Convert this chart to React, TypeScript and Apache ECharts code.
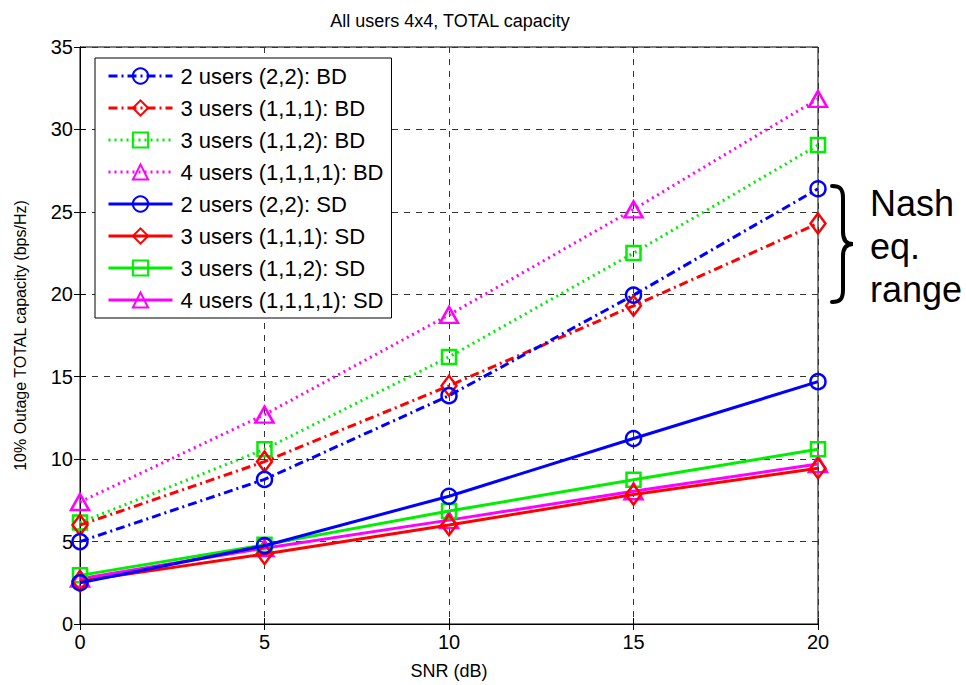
import React, { useEffect, useRef } from "react";
import * as echarts from "echarts";

const snr = [0, 5, 10, 15, 20];
const bd2 = [5.0, 8.77, 13.85, 19.95, 26.4];
const bd3a = [6.0, 9.85, 14.45, 19.3, 24.3];
const bd3b = [6.15, 10.6, 16.2, 22.5, 29.05];
const bd4 = [7.4, 12.7, 18.75, 25.15, 31.85];
const sd2 = [2.5, 4.75, 7.75, 11.25, 14.7];
const sd3a = [2.6, 4.25, 6.0, 7.85, 9.45];
const sd3b = [2.95, 4.8, 6.85, 8.75, 10.6];
const sd4 = [2.75, 4.6, 6.3, 8.05, 9.7];

const seriesNames = [
  "2 users (2,2): BD",
  "3 users (1,1,1): BD",
  "3 users (1,1,2): BD",
  "4 users (1,1,1,1): BD",
  "2 users (2,2): SD",
  "3 users (1,1,1): SD",
  "3 users (1,1,2): SD",
  "4 users (1,1,1,1): SD",
];
const seriesData = [bd2, bd3a, bd3b, bd4, sd2, sd3a, sd3b, sd4];
const colors = ["#0000ff", "#ff0000", "#00ee00", "#ff00ff", "#0000ff", "#ff0000", "#00ee00", "#ff00ff"];
const symbols = ["circle", "diamond", "rect", "triangle", "circle", "diamond", "rect", "triangle"];
const symbolSizes: any[] = [15, [15, 20], 14, [18, 16], 15, [15, 20], 14, [18, 16]];
const dashStyles: any[] = [[9, 4, 2, 4], [9, 4, 2, 4], [2, 4], [2, 4], "solid", "solid", "solid", "solid"];

const braceD = "M0 0 C8 0 11 3 11 12 L11 46 C11 54 14 58 21 58 C14 58 11 62 11 70 L11 104 C11 113 8 116 0 116";
echarts.graphic.registerShape("brace", echarts.graphic.extendPath(braceD, {}) as any);

export default function App() {
  const ref = useRef<HTMLDivElement>(null);
  useEffect(() => {
    const chart = echarts.init(ref.current!, null, { renderer: "svg" });
    const font = "Liberation Sans";
    const gridLine = { show: true, lineStyle: { color: "#333", type: [6, 6] as any, width: 1 } };
    chart.setOption({
      animation: false,
      textStyle: { fontFamily: font },
      title: {
        text: "All users 4x4, TOTAL capacity",
        left: 445,
        textAlign: "center",
        top: 7,
        textStyle: { fontFamily: font, fontSize: 18, fontWeight: "normal", color: "#000" },
      },
      legend: {
        orient: "vertical",
        left: 95,
        top: 58,
        itemWidth: 64,
        itemHeight: 19,
        itemGap: 10,
        padding: [7, 8, 7, 12],
        borderColor: "#000",
        borderWidth: 1,
        backgroundColor: "#fff",
        lineStyle: { width: 3 },
        textStyle: { fontFamily: font, fontSize: 22, color: "#000", padding: [0, 0, 0, 3] },
        data: seriesNames,
      },
      grid: { left: 80, right: 148, top: 47, bottom: 59, show: true, borderColor: "#000", borderWidth: 1, backgroundColor: "#fff" },
      xAxis: [
        {
          type: "value",
          min: 0,
          max: 20,
          interval: 5,
          name: "SNR (dB)",
          nameLocation: "middle",
          nameGap: 38,
          nameTextStyle: { fontFamily: font, fontSize: 18, color: "#000" },
          axisLine: { show: true, lineStyle: { color: "#000" } },
          axisTick: { inside: true, length: 6, lineStyle: { color: "#000" } },
          axisLabel: { fontFamily: font, fontSize: 20, color: "#000", margin: 8 },
          splitLine: gridLine,
        },
        {
          type: "value",
          position: "top",
          min: 0,
          max: 20,
          interval: 5,
          axisLine: { show: true, lineStyle: { color: "#000" } },
          axisTick: { inside: true, length: 6, lineStyle: { color: "#000" } },
          axisLabel: { show: false },
          splitLine: { show: false },
        },
      ],
      yAxis: [
        {
          type: "value",
          min: 0,
          max: 35,
          interval: 5,
          name: "10% Outage TOTAL capacity (bps/Hz)",
          nameLocation: "middle",
          nameGap: 52,
          nameTextStyle: { fontFamily: font, fontSize: 16, color: "#000" },
          axisLine: { show: true, lineStyle: { color: "#000" } },
          axisTick: { inside: true, length: 6, lineStyle: { color: "#000" } },
          axisLabel: { fontFamily: font, fontSize: 20, color: "#000", margin: 7 },
          splitLine: gridLine,
        },
        {
          type: "value",
          position: "right",
          min: 0,
          max: 35,
          interval: 5,
          axisLine: { show: true, lineStyle: { color: "#000" } },
          axisTick: { inside: true, length: 6, lineStyle: { color: "#000" } },
          axisLabel: { show: false },
          splitLine: { show: false },
        },
      ],
      series: seriesData.map((vals, i) => ({
        name: seriesNames[i],
        type: "line",
        data: vals.map((v, j) => [snr[j], v]),
        symbol: symbols[i],
        symbolSize: symbolSizes[i],
        showAllSymbol: true,
        z: 10 - (i % 4),
        lineStyle: { color: colors[i], width: 3, type: dashStyles[i] },
        itemStyle: { color: "rgba(255,255,255,0)", borderColor: colors[i], borderWidth: 2.5 },
        emphasis: { disabled: true },
      })),
      graphic: [
        {
          type: "brace",
          x: 832,
          y: 186,
          style: { fill: "none", stroke: "#000", lineWidth: 4, lineCap: "round" },
        },
        {
          type: "text",
          left: 870,
          top: 182,
          style: { text: "Nash\neq.\nrange", fontFamily: font, fontSize: 36, lineHeight: 43, fill: "#000" },
        },
      ],
    });
    return () => chart.dispose();
  }, []);
  return <div ref={ref} style={{ width: 966, height: 685, position: "absolute", left: 0, top: 0 }} />;
}
